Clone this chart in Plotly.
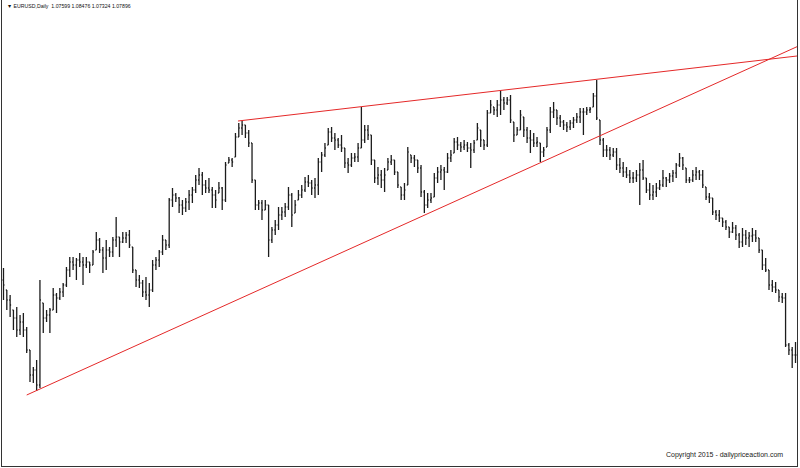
import plotly.graph_objects as go

# ---- data (EURUSD daily bars) ----
opens = [
 1.170,1.160,1.150,1.140,1.132,1.120,1.128,1.120,1.100,1.075,
 1.080,1.065,1.147,1.132,1.135,1.140,1.155,1.152,1.158,1.165,
 1.180,1.188,1.185,1.190,1.188,1.185,1.188,1.185,1.200,1.210,
 1.200,1.192,1.200,1.198,1.210,1.213,1.208,1.212,1.215,1.203,
 1.180,1.170,1.167,1.158,1.155,1.160,1.185,1.190,1.198,1.210,
 1.205,1.250,1.255,1.252,1.245,1.242,1.248,1.255,1.260,1.270,
 1.275,1.265,1.262,1.260,1.255,1.257,1.262,1.250,1.287,1.290,
 1.293,1.313,1.322,1.325,1.317,1.307,1.270,1.245,1.247,1.240,
 1.245,1.210,1.220,1.225,1.235,1.238,1.243,1.255,1.237,1.250,
 1.255,1.260,1.268,1.267,1.262,1.265,1.288,1.295,1.305,1.318,
 1.312,1.310,1.305,1.302,1.287,1.285,1.292,1.293,1.302,1.310,
 1.320,1.315,1.290,1.272,1.275,1.270,1.280,1.288,1.290,1.278,
 1.263,1.255,1.265,1.295,1.292,1.290,1.282,1.258,1.245,1.250,
 1.253,1.272,1.278,1.280,1.278,1.292,1.297,1.308,1.305,1.303,
 1.305,1.302,1.300,1.310,1.320,1.310,1.305,1.337,1.343,1.340,
 1.345,1.350,1.347,1.350,1.328,1.315,1.320,1.333,1.320,1.312,
 1.310,1.307,1.307,1.298,1.303,1.320,1.338,1.340,1.332,1.328,
 1.325,1.323,1.327,1.330,1.333,1.338,1.338,1.340,1.343,1.354,
 1.330,1.310,1.300,1.300,1.295,1.298,1.285,1.282,1.278,1.275,
 1.272,1.272,1.275,1.280,1.272,1.260,1.255,1.258,1.262,1.265,
 1.272,1.270,1.274,1.277,1.285,1.292,1.282,1.270,1.270,1.275,
 1.278,1.275,1.263,1.253,1.252,1.238,1.235,1.232,1.228,1.223,
 1.218,1.222,1.215,1.208,1.215,1.212,1.214,1.215,1.212,1.200,
 1.185,1.180,1.165,1.163,1.160,1.153,1.152,1.105,1.100,1.095,
]
highs = [
 1.182,1.160,1.155,1.140,1.143,1.135,1.137,1.123,1.100,1.083,
 1.090,1.170,1.147,1.140,1.142,1.162,1.157,1.162,1.167,1.183,
 1.193,1.193,1.192,1.197,1.193,1.193,1.188,1.200,1.218,1.212,
 1.203,1.210,1.203,1.213,1.233,1.213,1.218,1.218,1.220,1.203,
 1.180,1.175,1.170,1.173,1.167,1.190,1.193,1.200,1.215,1.210,
 1.252,1.262,1.257,1.253,1.250,1.252,1.260,1.263,1.275,1.282,
 1.278,1.270,1.272,1.263,1.260,1.268,1.263,1.288,1.293,1.292,
 1.317,1.327,1.329,1.325,1.320,1.307,1.270,1.250,1.250,1.250,
 1.245,1.223,1.230,1.243,1.243,1.247,1.263,1.257,1.250,1.260,
 1.265,1.273,1.275,1.270,1.272,1.292,1.298,1.307,1.322,1.323,
 1.317,1.312,1.315,1.302,1.292,1.297,1.297,1.307,1.343,1.325,
 1.325,1.315,1.290,1.283,1.280,1.282,1.292,1.295,1.290,1.278,
 1.263,1.267,1.303,1.295,1.295,1.290,1.285,1.260,1.257,1.257,
 1.277,1.283,1.285,1.283,1.297,1.300,1.312,1.313,1.308,1.310,
 1.308,1.307,1.310,1.327,1.320,1.310,1.340,1.350,1.343,1.350,
 1.359,1.353,1.353,1.355,1.328,1.323,1.340,1.333,1.323,1.320,
 1.317,1.313,1.307,1.303,1.323,1.343,1.348,1.340,1.335,1.330,
 1.328,1.330,1.333,1.337,1.342,1.342,1.343,1.343,1.357,1.370,
 1.330,1.312,1.305,1.303,1.302,1.302,1.292,1.288,1.283,1.280,
 1.278,1.280,1.287,1.290,1.272,1.267,1.265,1.267,1.270,1.280,
 1.273,1.277,1.280,1.287,1.297,1.293,1.282,1.273,1.280,1.283,
 1.280,1.280,1.263,1.257,1.252,1.240,1.240,1.232,1.230,1.223,
 1.228,1.225,1.217,1.222,1.220,1.218,1.222,1.220,1.212,1.200,
 1.192,1.180,1.170,1.168,1.160,1.157,1.157,1.107,1.103,1.108,
]
lows = [
 1.150,1.140,1.133,1.120,1.113,1.115,1.113,1.097,1.068,1.067,
 1.059,1.062,1.117,1.128,1.117,1.140,1.137,1.150,1.153,1.163,
 1.173,1.180,1.170,1.183,1.165,1.182,1.177,1.185,1.200,1.197,
 1.177,1.180,1.193,1.193,1.203,1.193,1.207,1.207,1.202,1.177,
 1.163,1.162,1.153,1.150,1.143,1.158,1.180,1.183,1.195,1.200,
 1.202,1.243,1.248,1.237,1.235,1.238,1.240,1.247,1.257,1.265,
 1.255,1.257,1.257,1.242,1.242,1.257,1.240,1.248,1.287,1.283,
 1.293,1.313,1.315,1.312,1.303,1.267,1.240,1.240,1.230,1.240,
 1.193,1.207,1.215,1.220,1.230,1.233,1.240,1.223,1.237,1.250,
 1.252,1.258,1.263,1.255,1.252,1.255,1.278,1.293,1.305,1.308,
 1.300,1.302,1.298,1.282,1.277,1.283,1.288,1.288,1.302,1.307,
 1.310,1.285,1.267,1.265,1.262,1.258,1.280,1.285,1.275,1.262,
 1.250,1.250,1.265,1.287,1.283,1.277,1.253,1.237,1.242,1.247,
 1.253,1.267,1.270,1.260,1.277,1.288,1.297,1.300,1.298,1.300,
 1.298,1.282,1.297,1.310,1.303,1.300,1.303,1.337,1.335,1.333,
 1.335,1.340,1.345,1.327,1.308,1.315,1.320,1.313,1.307,1.297,
 1.303,1.303,1.288,1.293,1.303,1.317,1.332,1.325,1.323,1.320,
 1.318,1.320,1.322,1.327,1.327,1.315,1.335,1.337,1.343,1.330,
 1.305,1.293,1.293,1.290,1.293,1.280,1.277,1.273,1.272,1.267,
 1.267,1.268,1.245,1.270,1.257,1.250,1.250,1.253,1.260,1.263,
 1.263,1.267,1.268,1.272,1.283,1.280,1.267,1.267,1.268,1.270,
 1.270,1.262,1.250,1.247,1.235,1.230,1.228,1.223,1.220,1.212,
 1.217,1.210,1.202,1.203,1.205,1.203,1.208,1.208,1.197,1.180,
 1.178,1.160,1.158,1.157,1.148,1.147,1.103,1.095,1.082,1.087,
]
closes = [
 1.165,1.150,1.145,1.132,1.120,1.128,1.120,1.100,1.075,1.080,
 1.065,1.150,1.132,1.135,1.140,1.155,1.152,1.158,1.165,1.180,
 1.188,1.185,1.190,1.188,1.185,1.188,1.185,1.198,1.210,1.200,
 1.192,1.200,1.198,1.210,1.213,1.208,1.212,1.215,1.205,1.180,
 1.170,1.167,1.158,1.155,1.160,1.185,1.190,1.198,1.210,1.205,
 1.250,1.255,1.252,1.245,1.242,1.248,1.255,1.260,1.270,1.275,
 1.265,1.262,1.260,1.255,1.250,1.262,1.250,1.285,1.290,1.288,
 1.313,1.322,1.325,1.317,1.307,1.270,1.245,1.247,1.240,1.245,
 1.210,1.220,1.225,1.235,1.238,1.243,1.255,1.235,1.245,1.255,
 1.260,1.268,1.267,1.262,1.265,1.288,1.295,1.302,1.318,1.312,
 1.310,1.305,1.302,1.287,1.285,1.292,1.293,1.302,1.310,1.320,
 1.315,1.290,1.272,1.275,1.270,1.275,1.288,1.290,1.278,1.265,
 1.255,1.260,1.298,1.292,1.290,1.282,1.258,1.245,1.250,1.252,
 1.272,1.278,1.280,1.278,1.292,1.295,1.308,1.305,1.303,1.305,
 1.302,1.300,1.307,1.322,1.310,1.305,1.337,1.345,1.340,1.345,
 1.350,1.347,1.350,1.330,1.315,1.320,1.335,1.320,1.312,1.310,
 1.307,1.308,1.298,1.300,1.320,1.338,1.340,1.332,1.328,1.325,
 1.323,1.327,1.330,1.333,1.338,1.338,1.340,1.341,1.354,1.332,
 1.310,1.300,1.300,1.295,1.298,1.285,1.282,1.278,1.275,1.272,
 1.272,1.275,1.280,1.272,1.260,1.255,1.258,1.262,1.265,1.272,
 1.270,1.274,1.277,1.285,1.292,1.285,1.270,1.270,1.275,1.278,
 1.275,1.265,1.253,1.252,1.238,1.235,1.232,1.228,1.223,1.218,
 1.222,1.215,1.208,1.215,1.212,1.214,1.215,1.212,1.200,1.185,
 1.180,1.165,1.163,1.160,1.153,1.152,1.105,1.100,1.095,1.095,
]
bar_index = list(range(len(closes)))

# trend lines (bar index, price)
support_x = [7.0, 239.45]
support_y = [1.055, 1.4033]
resistance_x = [70.76, 239.45]
resistance_y = [1.329, 1.394]

header_text = "\u25bc EURUSD,Daily  1.07599 1.08476 1.07324 1.07896"
copyright_text = "Copyright 2015 - dailypriceaction.com"

BAR = "#1c1c1c"
RED = "rgb(228,40,40)"

fig = go.Figure()
fig.add_trace(go.Ohlc(
    x=bar_index, open=opens, high=highs, low=lows, close=closes,
    increasing=dict(line=dict(color=BAR, width=1.3)),
    decreasing=dict(line=dict(color=BAR, width=1.3)),
    tickwidth=0.3, hoverinfo="skip", showlegend=False,
))
fig.add_trace(go.Scatter(x=support_x, y=support_y, mode="lines",
                         line=dict(color=RED, width=1), hoverinfo="skip",
                         showlegend=False))
fig.add_trace(go.Scatter(x=resistance_x, y=resistance_y, mode="lines",
                         line=dict(color=RED, width=1), hoverinfo="skip",
                         showlegend=False))

fig.update_layout(
    width=800, height=468,
    margin=dict(l=2, r=3, t=0, b=2),
    paper_bgcolor="white", plot_bgcolor="white",
    showlegend=False, hovermode=False,
    xaxis=dict(range=[-0.45, 239.45], showgrid=False, zeroline=False,
               showticklabels=False, ticks="", showline=True,
               linecolor="#333", linewidth=1, mirror=False,
               rangeslider=dict(visible=False), fixedrange=True),
    yaxis=dict(range=[0.984, 1.450], showgrid=False, zeroline=False,
               showticklabels=False, ticks="", showline=True,
               linecolor="#333", linewidth=1, mirror=True, fixedrange=True),
    annotations=[
        dict(text=header_text, xref="paper", yref="paper",
             x=0.004, y=1 - 6 / 466, xanchor="left", yanchor="middle",
             showarrow=False,
             font=dict(family="Liberation Sans, Arial", size=5.2, color="#111")),
        dict(text=copyright_text, xref="paper", yref="paper",
             x=(785 - 2) / 795, y=1 - 455 / 466, xanchor="right",
             yanchor="middle", showarrow=False,
             font=dict(family="Liberation Sans, Arial", size=7, color="#222")),
    ],
)

fig.write_html("out.html", config={"displayModeBar": False, "staticPlot": True},
               post_script="document.body.style.margin='0';")
